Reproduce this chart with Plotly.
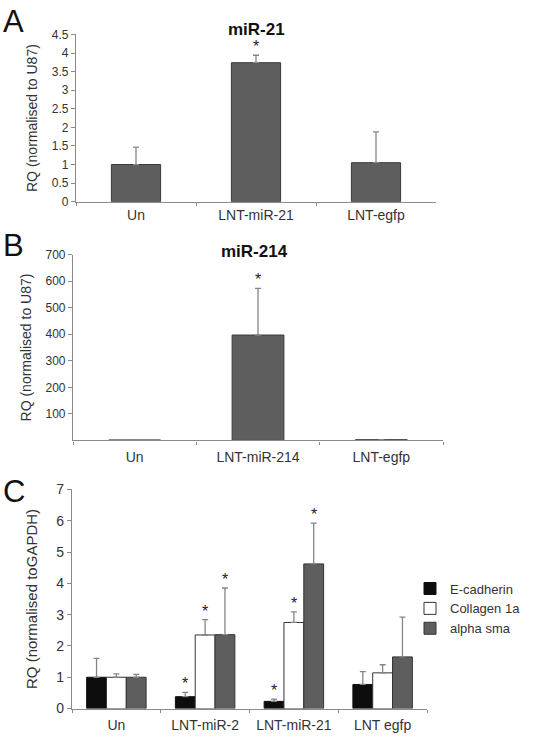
import plotly.graph_objects as go

# ---------------- data ----------------
cats_a = ["Un", "LNT-miR-21", "LNT-egfp"]
rq_a = [1.0, 3.74, 1.05]
err_a = [0.47, 0.20, 0.83]
star_a = [False, True, False]

cats_b = ["Un", "LNT-miR-214", "LNT-egfp"]
rq_b = [2, 397, 3]
err_b = [0, 176, 0]
star_b = [False, True, False]

cats_c = ["Un", "LNT-miR-2", "LNT-miR-21", "LNT egfp"]
series_c = ["E-cadherin", "Collagen 1a", "alpha sma"]
ecad = [1.0, 0.38, 0.23, 0.77]
ecad_err = [0.60, 0.14, 0.07, 0.41]
coll = [1.0, 2.35, 2.75, 1.14]
coll_err = [0.11, 0.49, 0.34, 0.26]
sma = [1.0, 2.36, 4.62, 1.65]
sma_err = [0.09, 1.49, 1.30, 1.27]
star_ecad = [False, True, True, False]
star_coll = [False, True, True, False]
star_sma = [False, True, True, False]

yticks_a = [0, 0.5, 1, 1.5, 2, 2.5, 3, 3.5, 4, 4.5]
yticks_b = [100, 200, 300, 400, 500, 600, 700]
yticks_c = [0, 1, 2, 3, 4, 5, 6, 7]

# ---------------- style ----------------
W, H = 538, 742
FONT = "Liberation Sans, Arial, sans-serif"
TXT = "#333333"
AX = "#8a8a8a"
BAR_GRAY = "#5e5e5e"
EDGE = "#3a3a3a"
ERR = "#858585"


def px_x(p):
    return p / W


def px_y(p):
    return 1 - p / H


fig = go.Figure()


def err(vals):
    return dict(type="data", array=vals, arrayminus=[0] * len(vals), symmetric=False,
                color=ERR, thickness=1.3, width=3)


fig.add_trace(go.Bar(x=cats_a, y=rq_a, width=0.41, marker=dict(color=BAR_GRAY, line=dict(color=EDGE, width=1)),
                     error_y=err(err_a), xaxis="x", yaxis="y", showlegend=False))
fig.add_trace(go.Bar(x=cats_b, y=rq_b, width=0.42, marker=dict(color=BAR_GRAY, line=dict(color=EDGE, width=1)),
                     error_y=err(err_b), xaxis="x2", yaxis="y2", showlegend=False))

c_vals = [ecad, coll, sma]
c_errs = [ecad_err, coll_err, sma_err]
c_stars = [star_ecad, star_coll, star_sma]
c_fill = ["#0d0d0d", "#ffffff", "#5e5e5e"]
c_edge = ["#111111", "#333333", "#333333"]
for name, v, e, f, ed in zip(series_c, c_vals, c_errs, c_fill, c_edge):
    fig.add_trace(go.Bar(x=cats_c, y=v, name=name, marker=dict(color=f, line=dict(color=ed, width=1)),
                         error_y=err(e), xaxis="x3", yaxis="y3"))

BARGAP_C = 0.33
fig.update_layout(barmode="group", bargap=BARGAP_C, bargroupgap=0)

tickfont_a = dict(family=FONT, size=12, color=TXT)
xfont = dict(family=FONT, size=14, color=TXT)
common_x = dict(type="category", showline=True, linecolor=AX, linewidth=1.2, ticks="outside",
                tickson="boundaries", ticklen=3, tickcolor=AX, showgrid=False, zeroline=False,
                tickfont=xfont)
common_y = dict(showline=True, linecolor=AX, linewidth=1.2, ticks="outside", ticklen=4, tickcolor=AX,
                showgrid=False, zeroline=False)

fig.update_layout(
    width=W, height=H, margin=dict(l=0, r=0, t=0, b=0),
    paper_bgcolor="white", plot_bgcolor="white",
    xaxis=dict(common_x, domain=[px_x(76), px_x(436)], anchor="y", range=[-0.5, 2.5]),
    yaxis=dict(common_y, domain=[px_y(198), px_y(27)], anchor="x", range=[0, 4.5], tickvals=yticks_a,
               ticktext=[f"{t:g}" for t in yticks_a], tickfont=tickfont_a,
               title=dict(text="RQ (normalised to U87)", font=dict(family=FONT, size=14, color=TXT), standoff=10)),
    xaxis2=dict(common_x, domain=[px_x(73), px_x(443)], anchor="y2", range=[-0.5, 2.5], ticklabelstandoff=4),
    yaxis2=dict(common_y, domain=[px_y(442), px_y(252)], anchor="x2", range=[0, 700], tickvals=yticks_b,
                tickfont=tickfont_a,
                title=dict(text="RQ (normalised to U87)", font=dict(family=FONT, size=14, color=TXT), standoff=10)),
    xaxis3=dict(common_x, domain=[px_x(72), px_x(427)], anchor="y3", range=[-0.5, 3.5], ticklabelstandoff=4),
    yaxis3=dict(common_y, domain=[px_y(716), px_y(492)], anchor="x3", range=[0, 7], tickvals=yticks_c,
                tickfont=dict(family=FONT, size=14, color=TXT),
                title=dict(text="RQ (normalised toGAPDH)", font=dict(family=FONT, size=15, color=TXT), standoff=15)),
    legend=dict(x=px_x(410), y=px_y(578), xanchor="left", yanchor="top", font=dict(family=FONT, size=13, color=TXT),
                itemwidth=30, tracegroupgap=0, bgcolor="rgba(0,0,0,0)"),
)

ann = []
# panel letters
for letter, yy in [("A", 14), ("B", 243), ("C", 494)]:
    ann.append(dict(text=letter, x=px_x(1), y=px_y(yy), xref="paper", yref="paper", xanchor="left",
                    yanchor="middle", showarrow=False, font=dict(family=FONT, size=31, color="#111111")))
# titles
ann.append(dict(text="<b>miR-21</b>", x=px_x(256), y=px_y(22), xref="paper", yref="paper", showarrow=False,
                font=dict(family=FONT, size=17, color="#111111"), yanchor="middle"))
ann.append(dict(text="<b>miR-214</b>", x=px_x(254), y=px_y(249), xref="paper", yref="paper", showarrow=False,
                font=dict(family=FONT, size=17, color="#111111"), yanchor="middle"))

star_font = dict(family=FONT, size=16, color="#222222")


def add_stars(vals, errs, stars, xref, yref, offset=0.0):
    for i, (v, e, s) in enumerate(zip(vals, errs, stars)):
        if s:
            ann.append(dict(text="*", x=i + offset, y=v + e, xref=xref, yref=yref, showarrow=False,
                            yanchor="bottom", yshift=-2, font=star_font))


add_stars(rq_a, err_a, star_a, "x", "y")
add_stars(rq_b, err_b, star_b, "x2", "y2")
bw = (1 - BARGAP_C) / len(series_c)
for k, (v, e, s) in enumerate(zip(c_vals, c_errs, c_stars)):
    add_stars(v, e, s, "x3", "y3", offset=(k - 1) * bw)

fig.update_layout(annotations=ann)
fig.write_html("out.html", config={"displayModeBar": False},
               post_script="document.body.style.margin='0';")
